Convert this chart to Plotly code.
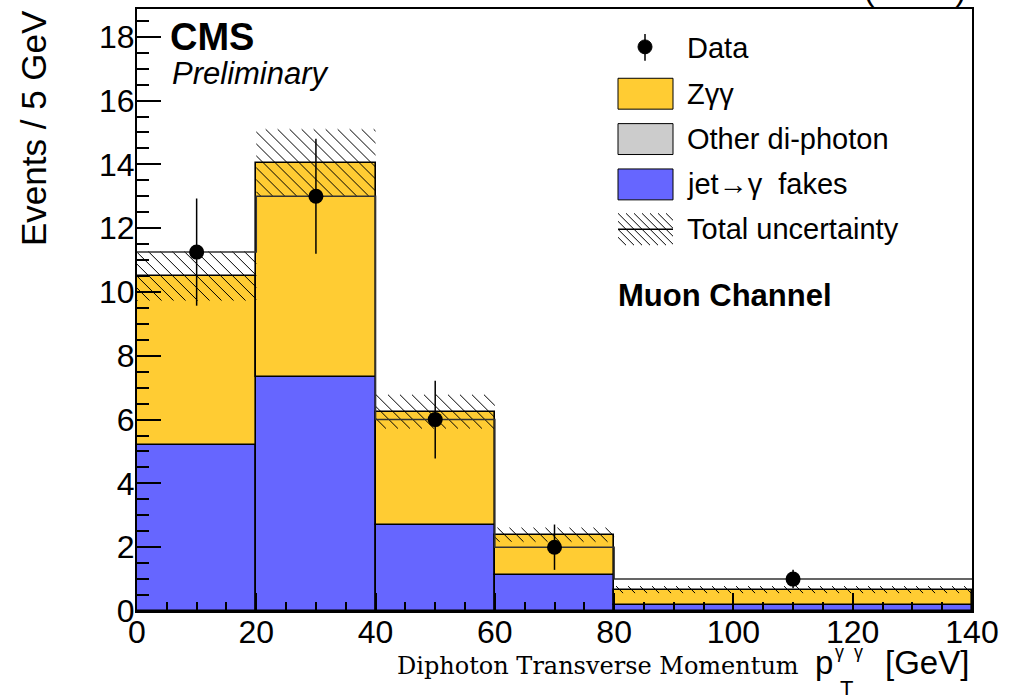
import math
import plotly.graph_objects as go

# ---- histogram content (events / 5 GeV) ----
bin_edges = [0, 20, 40, 60, 80, 140]
jet_fakes = [5.21, 7.35, 2.70, 1.14, 0.20]        # jet -> gamma fakes (bottom of stack)
zgg = [5.29, 6.70, 3.55, 1.25, 0.47]              # Z gamma gamma (stacked on fakes)
total_unc = [0.77, 1.05, 0.53, 0.22, 0.11]        # half-width of total uncertainty band
data_x = [10, 30, 50, 70, 110]
data_y = [11.25, 13.0, 6.0, 2.0, 1.0]
data_err = [1.68, 1.80, 1.22, 0.71, 0.29]

x_ticks = [0, 20, 40, 60, 80, 100, 120, 140]
y_ticks = [0, 2, 4, 6, 8, 10, 12, 14, 16, 18]
X_RANGE = [0, 140]
Y_RANGE = [0, 18.87]

YELLOW = "#ffcc33"
BLUE = "#6666ff"
GRAY = "#cccccc"
FONT = "Liberation Sans, Arial, sans-serif"

# ---- frame geometry in pixels ----
W, H = 1012, 695
L, R, T, B = 137, 40, 7, 84
PW, PH = W - L - R, H - T - B

centers = [(a + b) / 2 for a, b in zip(bin_edges[:-1], bin_edges[1:])]
widths = [b - a for a, b in zip(bin_edges[:-1], bin_edges[1:])]
stack_total = [j + z for j, z in zip(jet_fakes, zgg)]
band_lo = [t - u for t, u in zip(stack_total, total_unc)]
band_hi = [t + u for t, u in zip(stack_total, total_unc)]

fig = go.Figure()

fig.add_trace(go.Bar(
    x=centers, y=jet_fakes, width=widths, base=[0] * len(jet_fakes),
    marker=dict(color=BLUE, line=dict(color="black", width=1.6)),
    name="jet→γ fakes", showlegend=False))

fig.add_trace(go.Bar(
    x=centers, y=zgg, width=widths, base=jet_fakes,
    marker=dict(color=YELLOW, line=dict(color="black", width=1.6)),
    name="Zγγ", showlegend=False))

# uncertainty band: diagonal hatching at 45 degrees on screen, 12 px apart
ux = PW / (X_RANGE[1] - X_RANGE[0])     # px per GeV
uy = PH / (Y_RANGE[1] - Y_RANGE[0])     # px per event
spacing = 12.0
hx, hy = [], []
for e0, e1, lo, hi in zip(bin_edges[:-1], bin_edges[1:], band_lo, band_hi):
    X0, X1 = e0 * ux, e1 * ux
    Ylo, Yhi = lo * uy, hi * uy
    k = math.floor((X0 + Ylo) / spacing)
    while k * spacing <= X1 + Yhi:
        c = k * spacing
        xa, xb = max(X0, c - Yhi), min(X1, c - Ylo)
        if xb > xa:
            hx += [xa / ux, xb / ux, None]
            hy += [(c - xa) / uy, (c - xb) / uy, None]
        k += 1
fig.add_trace(go.Scatter(
    x=hx, y=hy, mode="lines", line=dict(color="black", width=1),
    name="Total uncertainty", showlegend=False, hoverinfo="skip"))

# data drawn as a histogram outline plus points with errors
fig.add_trace(go.Scatter(
    x=bin_edges, y=data_y + [data_y[-1]], mode="lines", line_shape="hv",
    line=dict(color="#333333", width=1.5), showlegend=False, hoverinfo="skip"))

fig.add_trace(go.Scatter(
    x=data_x, y=data_y, mode="markers",
    marker=dict(color="black", size=15),
    error_y=dict(type="data", array=data_err, color="black", thickness=1.5, width=0),
    name="Data", showlegend=False))


def px(x):
    return (x - L) / PW


def py(y):
    return (H - B - y) / PH


ann = []
shapes = []


def text(s, x, y, size, xanchor="left", yanchor="middle", **kw):
    font = dict(family=kw.pop("family", FONT), size=size, color="black")
    ann.append(dict(text=s, x=px(x), y=py(y), xref="paper", yref="paper",
                    xanchor=xanchor, yanchor=yanchor, showarrow=False,
                    font=font, **kw))


# CMS label
text("<b>CMS</b>", 168, 35, 38)
text("<i>Preliminary</i>", 170, 72, 31)
text("<b>Muon Channel</b>", 616, 294, 31)

# luminosity line, mostly above the page
text("19.6 fb<sup>-1</sup> (8 TeV)", 968, 7, 32, xanchor="right", yanchor="bottom")

# axis titles
text("Events / 5 GeV", 33, 6, 35, xanchor="center", yanchor="top", textangle=-90)
text("Diphoton Transverse Momentum", 801, 666, 24, xanchor="right",
     family="DejaVu Serif, serif")
text("p", 813, 663, 33)
text("γ  γ", 833, 652, 18)
text("T", 838, 689, 22)
text("[GeV]", 971, 663, 33, xanchor="right")

# ---- legend ----
bx0, bx1 = 618, 673
shapes.append(dict(type="line", xref="paper", yref="paper",
                   x0=px(645), x1=px(645), y0=py(32), y1=py(59),
                   line=dict(color="black", width=1.5)))
shapes.append(dict(type="circle", xref="paper", yref="paper",
                   x0=px(638), x1=px(652), y0=py(52), y1=py(38),
                   fillcolor="black", line=dict(color="black", width=1)))
text("Data", 685, 46, 29)

for label, color, yc in [("Zγγ", YELLOW, 92), ("Other di-photon", GRAY, 137.5),
                         ("jet→γ  fakes", BLUE, 183)]:
    shapes.append(dict(type="rect", xref="paper", yref="paper",
                       x0=px(bx0), x1=px(bx1), y0=py(yc + 15.5), y1=py(yc - 15.5),
                       fillcolor=color, line=dict(color="black", width=1)))
    text(label, 685, yc, 29)

# hatched swatch for the uncertainty band
hy0, hy1 = 212, 244
step = 8
xs = bx0 - (hy1 - hy0)
while xs < bx1:
    # line going down-right from (xs, hy0) to (xs + h, hy1), clipped to the box
    x0, y0 = xs, hy0
    x1, y1 = xs + (hy1 - hy0), hy1
    if x0 < bx0:
        y0 += bx0 - x0
        x0 = bx0
    if x1 > bx1:
        y1 -= x1 - bx1
        x1 = bx1
    if x1 > x0:
        shapes.append(dict(type="line", xref="paper", yref="paper",
                           x0=px(x0), x1=px(x1), y0=py(y0), y1=py(y1),
                           line=dict(color="black", width=1)))
    xs += step
shapes.append(dict(type="line", xref="paper", yref="paper",
                   x0=px(bx0), x1=px(bx1), y0=py(228), y1=py(228),
                   line=dict(color="black", width=1.5)))
text("Total uncertainty", 685, 228, 29)

axis_common = dict(showline=True, linecolor="black", linewidth=2, mirror=True,
                   ticks="inside", tickcolor="black", tickwidth=1.5,
                   showgrid=False, zeroline=False,
                   tickfont=dict(family=FONT, size=32, color="black"))

fig.update_layout(
    width=W, height=H,
    margin=dict(l=L, r=R, t=T, b=B),
    paper_bgcolor="white", plot_bgcolor="white",
    barmode="overlay", bargap=0,
    showlegend=False,
    xaxis=dict(range=X_RANGE, tickvals=x_ticks, ticklen=18, ticklabelstandoff=-8,
               minor=dict(ticks="inside", dtick=5, tick0=0, ticklen=9,
                          tickcolor="black", tickwidth=1.5, showgrid=False),
               **axis_common),
    yaxis=dict(range=Y_RANGE, tickvals=y_ticks, ticklen=24, ticklabelstandoff=-6,
               minor=dict(ticks="inside", dtick=0.5, tick0=0, ticklen=12,
                          tickcolor="black", tickwidth=1.5, showgrid=False),
               **axis_common),
    annotations=ann,
    shapes=shapes,
)

fig.write_html("out.html")
